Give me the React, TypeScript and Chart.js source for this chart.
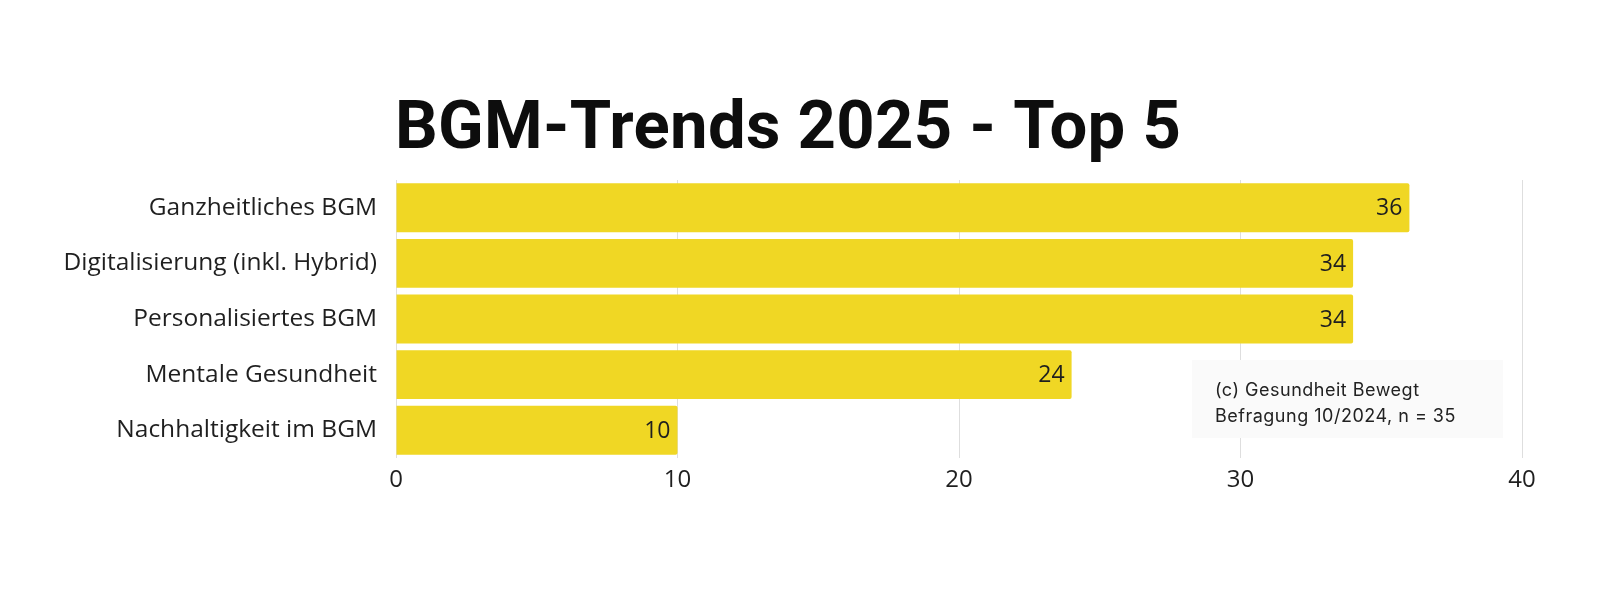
import React, { useEffect, useRef } from "react";
import { Chart, registerables } from "chart.js";

Chart.register(...registerables);

const titleText = "BGM-Trends 2025 - Top 5";
const categories = [
  "Ganzheitliches BGM",
  "Digitalisierung (inkl. Hybrid)",
  "Personalisiertes BGM",
  "Mentale Gesundheit",
  "Nachhaltigkeit im BGM",
];
const values = [36, 34, 34, 24, 10];
const xTicks = [0, 10, 20, 30, 40];
const noteLines = ["(c) Gesundheit Bewegt", "Befragung 10/2024, n = 35"];

const BAR_COLOR = "#f0d724";
const TEXT_COLOR = "#1f1f1f";

const decorPlugin = {
  id: "decor",
  afterDraw(chart: any) {
    const { ctx, chartArea } = chart;
    ctx.save();
    ctx.fillStyle = "#0d0d0d";
    ctx.font = "700 67px Roboto";
    ctx.textAlign = "left";
    ctx.textBaseline = "alphabetic";
    const targetW = 786;
    const w = ctx.measureText(titleText).width;
    const n = titleText.length - 1;
    const sp = Math.max(-1.5, Math.min(2, (targetW - w) / n));
    (ctx as any).letterSpacing = sp.toFixed(2) + "px";
    ctx.fillText(titleText, chartArea.left - 1, 148);
    ctx.restore();
  },
  afterDatasetsDraw(chart: any) {
    const { ctx } = chart;
    const meta = chart.getDatasetMeta(0);
    ctx.save();
    ctx.fillStyle = TEXT_COLOR;
    ctx.font = "23px 'Open Sans'";
    ctx.textAlign = "right";
    ctx.textBaseline = "middle";
    meta.data.forEach((bar: any, i: number) => {
      ctx.fillText(String(values[i]), bar.x - 7, bar.y + 1);
    });
    // note box
    const left = 1192;
    const right = 1503;
    const top = 360;
    const bottom = 438;
    ctx.fillStyle = "#fafafa";
    ctx.fillRect(left, top, right - left, bottom - top);
    ctx.fillStyle = "#222222";
    ctx.font = "18px Inter";
    (ctx as any).letterSpacing = "0.5px";
    ctx.textAlign = "left";
    ctx.textBaseline = "alphabetic";
    ctx.fillText(noteLines[0], left + 23, 396);
    ctx.fillText(noteLines[1], left + 23, 422);
    ctx.restore();
  },
};

export default function App() {
  const ref = useRef<HTMLCanvasElement | null>(null);
  useEffect(() => {
    if (!ref.current) return;
    const chart = new Chart(ref.current, {
      type: "bar",
      data: {
        labels: categories,
        datasets: [
          {
            data: values,
            backgroundColor: BAR_COLOR,
            borderRadius: 2,
            borderSkipped: "start",
            barPercentage: 0.88,
            categoryPercentage: 1,
          },
        ],
      },
      options: {
        indexAxis: "y",
        animation: false,
        responsive: false,
        layout: { padding: { top: 180, right: 78, bottom: 81, left: 0 } },
        plugins: {
          legend: { display: false },
          tooltip: { enabled: false },
          title: { display: false },
        },
        scales: {
          x: {
            min: 0,
            max: 40,
            afterBuildTicks(scale: any) {
              scale.ticks = xTicks.map((v) => ({ value: v }));
            },
            afterFit(scale: any) {
              scale.height = 60;
            },
            grid: { color: "#dedede", lineWidth: 1, drawTicks: false },
            border: { display: false },
            ticks: {
              color: TEXT_COLOR,
              font: { family: "Open Sans", size: 24 },
              padding: 8,
            },
          },
          y: {
            afterFit(scale: any) {
              scale.width = 396;
            },
            grid: { display: false, drawTicks: false },
            border: { display: false },
            ticks: {
              color: TEXT_COLOR,
              font: { family: "Open Sans", size: 24.5 },
              padding: 19,
            },
          },
        },
      },
      plugins: [decorPlugin],
    });
    return () => chart.destroy();
  }, []);
  return (
    <div style={{ position: "fixed", left: 0, top: 0, width: 1600, height: 599, background: "#ffffff" }}>
      <canvas ref={ref} width={1600} height={599} style={{ display: "block" }} />
    </div>
  );
}
